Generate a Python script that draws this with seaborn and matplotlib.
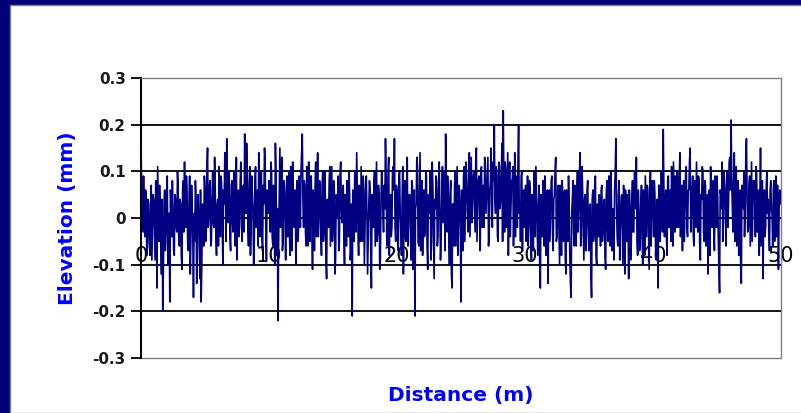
import numpy as np
import pandas as pd
import seaborn as sns
import matplotlib

matplotlib.use("Agg")
import matplotlib.pyplot as plt
from matplotlib.patches import Rectangle

# Elevation profile [mm].
# elev_* : samples at 0.0, 0.1, 0.2 ... m
# mid_*  : samples in between, at 0.05, 0.15, 0.25 ... m
elev_00_10 = [
    0.16, 0.02, 0.09, -0.04, 0.05, -0.06, 0.03, -0.08, 0.07, -0.02,
    0.04, -0.09, 0.06, 0.11, -0.05, 0.02, -0.12, -0.20, 0.03, -0.07,
    0.05, -0.10, 0.01, 0.06, -0.04, 0.02, -0.08, 0.04, -0.03, 0.07,
    -0.06, 0.03, -0.11, 0.08, 0.12, -0.02, 0.05, -0.07, 0.09, -0.04,
    0.02, -0.17, -0.05, 0.04, -0.09, 0.01, -0.13, -0.18, 0.03, -0.06,
    0.06, -0.03, 0.15, 0.00, 0.08, -0.05, 0.10, -0.02, 0.06, -0.08,
    0.04, 0.11, -0.04, 0.07, -0.10, 0.03, 0.09, 0.17, -0.01, 0.05,
    -0.07, 0.08, -0.03, 0.10, 0.02, -0.09, 0.06, -0.02, 0.12, -0.05,
    0.07, 0.18, 0.01, 0.09, -0.06, 0.11, -0.03, 0.05, -0.10, 0.08,
    -0.02, 0.06, 0.14, -0.04, 0.10, -0.07, 0.03, 0.12, -0.09, 0.05,
]
elev_10_20 = [
    0.08, -0.03, 0.10, -0.06, 0.04, 0.16, -0.08, -0.22, 0.05, -0.02,
    0.13, -0.05, 0.07, -0.09, 0.09, 0.01, -0.04, 0.11, -0.07, 0.06,
    0.02, -0.10, 0.08, -0.03, 0.05, 0.10, 0.18, -0.02, 0.07, -0.06,
    0.04, 0.12, -0.05, 0.09, -0.11, 0.03, 0.07, -0.04, 0.14, 0.00,
    0.06, -0.08, 0.10, -0.03, 0.05, -0.13, 0.02, 0.08, -0.06, 0.11,
    -0.02, 0.06, -0.09, 0.04, 0.09, -0.05, 0.12, -0.01, 0.07, -0.10,
    0.03, 0.08, -0.04, 0.05, -0.07, -0.21, 0.02, 0.10, -0.03, 0.06,
    -0.08, 0.04, 0.11, -0.05, 0.07, -0.02, 0.09, -0.12, 0.03, 0.06,
    -0.15, 0.02, 0.08, -0.06, 0.12, -0.03, 0.05, -0.09, 0.10, 0.01,
    0.07, 0.17, -0.04, 0.09, -0.08, 0.05, -0.02, 0.11, 0.17, -0.05,
]
elev_20_30 = [
    0.06, -0.07, 0.10, -0.03, 0.04, -0.12, 0.08, -0.05, 0.13, 0.00,
    0.05, -0.09, 0.07, -0.04, -0.21, 0.03, 0.11, -0.06, 0.14, 0.02,
    -0.08, 0.06, -0.02, 0.09, -0.11, 0.04, 0.10, -0.05, 0.07, -0.13,
    0.02, 0.08, -0.04, 0.12, -0.09, 0.05, -0.01, 0.10, 0.18, -0.03,
    0.06, -0.10, 0.08, -0.15, 0.03, 0.07, -0.06, 0.11, -0.02, 0.05,
    -0.18, 0.04, 0.09, -0.05, 0.12, 0.01, 0.08, -0.04, 0.13, 0.03,
    0.10, -0.03, 0.15, 0.02, 0.09, -0.07, 0.11, 0.04, -0.02, 0.10,
    0.05, 0.13, -0.04, 0.08, 0.02, 0.12, 0.20, 0.01, 0.09, -0.05,
    0.11, 0.04, 0.16, 0.23, -0.03, 0.10, 0.06, -0.08, 0.12, 0.02,
    0.08, -0.06, 0.14, 0.05, -0.02, 0.20, 0.03, 0.09, -0.07, 0.06,
]
elev_30_40 = [
    0.04, -0.05, 0.09, -0.02, 0.06, -0.09, 0.03, 0.10, -0.04, 0.05,
    -0.08, 0.07, -0.15, 0.02, 0.08, -0.06, 0.04, -0.03, -0.14, 0.06,
    0.01, 0.09, -0.07, 0.05, 0.13, -0.04, 0.07, -0.10, 0.03, 0.08,
    -0.05, 0.06, -0.12, 0.02, 0.09, -0.08, -0.17, 0.04, -0.03, 0.07,
    -0.06, 0.10, 0.02, 0.14, -0.04, 0.06, -0.09, 0.05, -0.02, 0.08,
    -0.07, 0.03, -0.17, 0.06, -0.03, 0.09, -0.10, 0.01, 0.05, -0.06,
    0.07, -0.02, 0.04, -0.11, 0.08, -0.05, 0.03, 0.10, -0.07, 0.02,
    0.06, 0.17, -0.04, 0.05, -0.09, 0.03, -0.02, 0.07, -0.12, 0.01,
    0.05, -0.13, 0.03, -0.06, 0.08, -0.03, 0.06, 0.13, -0.08, 0.02,
    -0.05, 0.07, -0.10, 0.04, 0.09, -0.04, 0.06, -0.11, 0.10, 0.02,
]
elev_40_50 = [
    0.03, 0.08, -0.06, 0.04, -0.15, 0.07, -0.02, 0.05, 0.19, -0.04,
    0.06, -0.08, 0.09, 0.01, -0.05, 0.07, 0.12, -0.03, 0.05, 0.10,
    -0.02, 0.14, 0.04, -0.07, 0.08, 0.02, 0.11, -0.04, 0.06, 0.15,
    0.01, 0.09, -0.06, 0.05, 0.12, -0.03, 0.08, -0.09, 0.04, 0.10,
    -0.05, 0.07, 0.02, -0.12, 0.06, 0.11, -0.02, 0.08, -0.07, 0.04,
    0.09, -0.04, -0.16, 0.05, 0.12, -0.01, 0.07, -0.06, 0.10, 0.03,
    0.13, 0.21, 0.02, 0.08, -0.05, 0.11, 0.04, -0.08, 0.06, -0.14,
    0.05, 0.10, 0.01, 0.17, -0.03, 0.07, -0.06, 0.12, 0.02, 0.08,
    -0.04, 0.09, 0.03, -0.08, 0.15, 0.01, -0.13, 0.06, -0.02, 0.10,
    0.04, -0.07, 0.08, 0.01, 0.06, -0.05, 0.09, 0.02, -0.11, 0.06,
    0.03,
]

mid_00_10 = [
    0.07, -0.03, 0.01, 0.06, -0.08, 0.04, -0.05, 0.02, -0.09, 0.05,
    -0.02, 0.08, -0.15, 0.03, 0.07, -0.06, 0.04, -0.11, 0.06, -0.03,
    0.09, -0.04, -0.18, 0.03, 0.08, -0.07, 0.05, -0.02, 0.10, -0.05,
    0.04, -0.08, 0.06, -0.03, 0.02, 0.09, -0.06, 0.03, -0.12, 0.07,
    -0.04, 0.01, 0.08, -0.14, 0.05, -0.03, 0.06, -0.10, 0.02, 0.09,
    -0.05, 0.11, -0.02, 0.07, -0.06, 0.04, -0.01, 0.13, -0.04, 0.03,
    -0.06, 0.05, 0.09, -0.03, 0.06, 0.14, -0.05, 0.02, 0.10, -0.04,
    0.07, -0.01, 0.09, -0.06, 0.13, 0.03, -0.04, 0.08, 0.01, 0.06,
    -0.03, 0.05, 0.16, -0.02, 0.07, -0.08, 0.09, 0.02, -0.05, 0.11,
    0.04, -0.06, 0.08, 0.02, -0.04, 0.07, 0.15, -0.02, 0.06, 0.01,
]
mid_10_20 = [
    0.04, 0.12, -0.04, 0.07, -0.10, 0.09, 0.02, -0.06, 0.15, 0.03,
    -0.07, 0.08, 0.01, 0.05, -0.04, 0.10, -0.08, 0.04, 0.12, -0.02,
    0.06, 0.03, -0.05, 0.09, -0.02, 0.14, 0.04, 0.08, -0.03, 0.11,
    -0.06, 0.05, 0.09, -0.02, 0.06, -0.07, 0.12, 0.02, -0.04, 0.08,
    -0.03, 0.07, -0.05, 0.10, -0.09, 0.04, -0.02, 0.11, 0.03, -0.05,
    0.08, -0.12, 0.05, 0.00, -0.07, 0.09, 0.02, 0.06, -0.04, 0.05,
    -0.06, 0.04, 0.10, -0.09, 0.03, 0.06, -0.05, 0.08, 0.14, -0.02,
    0.07, -0.05, 0.03, 0.09, -0.10, 0.06, 0.01, -0.04, 0.08, -0.07,
    0.05, -0.02, 0.10, 0.03, -0.05, 0.07, -0.11, 0.04, 0.06, -0.03,
    0.02, 0.09, -0.06, 0.13, 0.03, -0.04, 0.10, 0.06, -0.02, 0.07,
]
mid_20_30 = [
    -0.02, 0.09, 0.01, -0.08, 0.11, 0.03, -0.04, 0.07, -0.06, 0.05,
    -0.03, 0.08, -0.11, 0.06, 0.02, 0.13, -0.05, 0.04, -0.07, 0.08,
    0.03, -0.04, 0.10, -0.06, 0.05, 0.01, -0.09, 0.12, -0.03, 0.04,
    0.09, -0.06, 0.06, 0.02, -0.04, 0.11, 0.04, -0.07, 0.06, 0.09,
    -0.04, 0.05, -0.12, 0.03, -0.06, 0.10, 0.02, -0.08, 0.07, -0.02,
    0.06, -0.07, 0.11, 0.03, 0.08, -0.03, 0.14, 0.05, -0.01, 0.09,
    0.04, 0.12, -0.05, 0.08, 0.03, 0.10, -0.02, 0.07, 0.13, 0.01,
    0.09, -0.06, 0.06, 0.15, -0.02, 0.08, 0.04, 0.11, -0.04, 0.12,
    0.02, 0.09, -0.05, 0.07, 0.12, -0.02, 0.14, 0.03, -0.04, 0.08,
    0.11, 0.02, -0.04, 0.09, 0.12, 0.01, -0.05, 0.10, 0.04, -0.02,
]
mid_30_40 = [
    0.07, 0.01, -0.06, 0.08, -0.03, 0.05, -0.07, 0.04, 0.11, -0.02,
    0.03, -0.11, 0.05, -0.04, 0.02, 0.09, -0.08, 0.06, 0.01, -0.05,
    0.08, -0.03, 0.04, 0.10, -0.05, 0.03, -0.02, 0.07, -0.08, 0.05,
    0.02, -0.09, 0.06, -0.05, 0.03, -0.14, 0.01, 0.08, -0.06, 0.03,
    0.05, -0.03, 0.09, -0.06, 0.11, -0.02, 0.04, -0.07, 0.06, -0.04,
    0.02, -0.12, 0.04, -0.05, 0.07, -0.08, 0.03, -0.04, 0.02, 0.06,
    -0.05, 0.03, -0.08, 0.05, -0.02, 0.09, -0.06, 0.04, 0.01, -0.09,
    0.10, 0.03, -0.06, 0.08, -0.02, 0.05, -0.10, 0.03, 0.06, -0.05,
    -0.02, 0.06, -0.09, 0.04, -0.03, 0.10, 0.02, -0.05, 0.06, -0.07,
    0.03, -0.04, 0.06, -0.08, 0.02, 0.07, -0.03, 0.05, -0.06, 0.08,
]
mid_40_50 = [
    -0.04, 0.05, -0.09, 0.02, 0.07, -0.05, 0.10, -0.03, 0.06, 0.02,
    -0.04, 0.08, -0.02, 0.06, 0.11, -0.06, 0.04, 0.09, -0.02, 0.05,
    0.08, -0.04, 0.07, 0.02, -0.05, 0.10, -0.02, 0.06, 0.12, -0.03,
    0.06, -0.04, 0.08, -0.02, 0.04, 0.09, -0.06, 0.05, 0.11, -0.03,
    0.08, -0.06, 0.05, 0.02, -0.08, 0.07, 0.04, -0.03, 0.09, -0.02,
    0.05, -0.11, 0.06, 0.02, -0.05, 0.10, 0.03, 0.07, -0.02, 0.12,
    0.06, 0.09, -0.03, 0.14, 0.02, -0.06, 0.08, 0.03, -0.10, 0.07,
    0.02, -0.04, 0.13, 0.05, -0.02, 0.09, 0.03, -0.05, 0.08, 0.04,
    0.11, -0.03, 0.06, 0.02, -0.06, 0.08, 0.03, -0.04, 0.07, 0.01,
    -0.03, 0.06, 0.02, -0.06, 0.08, 0.01, -0.04, 0.07, 0.02, 0.05,
]

y_ticks = [-0.3, -0.2, -0.1, 0.0, 0.1, 0.2, 0.3]
y_tick_labels = ["-0.3", "-0.2", "-0.1", "0", "0.1", "0.2", "0.3"]
x_ticks = [0, 10, 20, 30, 40, 50]
x_tick_labels = ["0", "10", "20", "30", "40", "50"]

main = elev_00_10 + elev_10_20 + elev_20_30 + elev_30_40 + elev_40_50
mid = mid_00_10 + mid_10_20 + mid_20_30 + mid_30_40 + mid_40_50
# interleave the two sample sets along the profile
elevation = list(np.column_stack((main[:-1], mid)).ravel()) + [main[-1]]
distance = np.round(np.arange(len(elevation)) * 0.05, 2)
df = pd.DataFrame({"distance": distance, "elevation": elevation})

sns.set_theme(style="white")
plt.rcParams["font.family"] = ["DejaVu Sans"]
plt.rcParams["axes.unicode_minus"] = False

fig = plt.figure(figsize=(8.01, 4.13), dpi=100, facecolor="#000078")

# White slide area with a thin grey frame (behind the axes)
fig.patches.append(
    Rectangle(
        (9.5 / 801, 0.0), 1.0, 1.0 - 4.5 / 413,
        transform=fig.transFigure, facecolor="white",
        edgecolor="#808080", linewidth=1.0, zorder=-5,
    )
)

ax = fig.add_axes([141 / 801, 55 / 413, 640 / 801, 280 / 413])
ax.set_facecolor("white")

sns.lineplot(
    data=df, x="distance", y="elevation", ax=ax,
    color="#000080", linewidth=1.2, estimator=None, sort=False,
    zorder=3,
)

ax.set_xlim(0, 50)
ax.set_ylim(-0.3, 0.3)

# Grid lines
for yv in y_ticks[1:-1]:
    ax.axhline(yv, color="black", linewidth=1.3, zorder=1)
ax.axhline(-0.3, color="#808080", linewidth=1.0, zorder=1, clip_on=False)

# Y axis
ax.set_yticks(y_ticks)
ax.set_yticklabels(y_tick_labels, fontsize=11, fontweight="bold")
ax.tick_params(axis="y", direction="out", length=7, width=1.3,
               color="black", labelcolor="#1a1a1a", left=True, pad=4)

# X axis crosses at 0, labels drawn under it
ax.spines["bottom"].set_position(("data", 0))
ax.spines["bottom"].set_color("black")
ax.spines["bottom"].set_linewidth(0.8)
ax.spines["bottom"].set_zorder(2)
ax.set_xticks(x_ticks)
ax.set_xticklabels(x_tick_labels, fontsize=15)
ax.tick_params(axis="x", length=0, pad=20, labelcolor="black")

ax.spines["left"].set_color("black")
ax.spines["left"].set_linewidth(1.5)
ax.spines["top"].set_color("#808080")
ax.spines["right"].set_color("#808080")
ax.spines["top"].set_linewidth(1.0)
ax.spines["right"].set_linewidth(1.0)

ax.set_xlabel("Distance (m)", fontsize=14.5, fontweight="bold", color="#0000ff")
ax.set_ylabel("Elevation (mm)", fontsize=14.5, fontweight="bold", color="#0000ff")
ax.xaxis.set_label_coords(0.5, -0.1)
ax.yaxis.set_label_coords(-0.10, 0.5)

fig.savefig("out.png", dpi=100, facecolor=fig.get_facecolor())
